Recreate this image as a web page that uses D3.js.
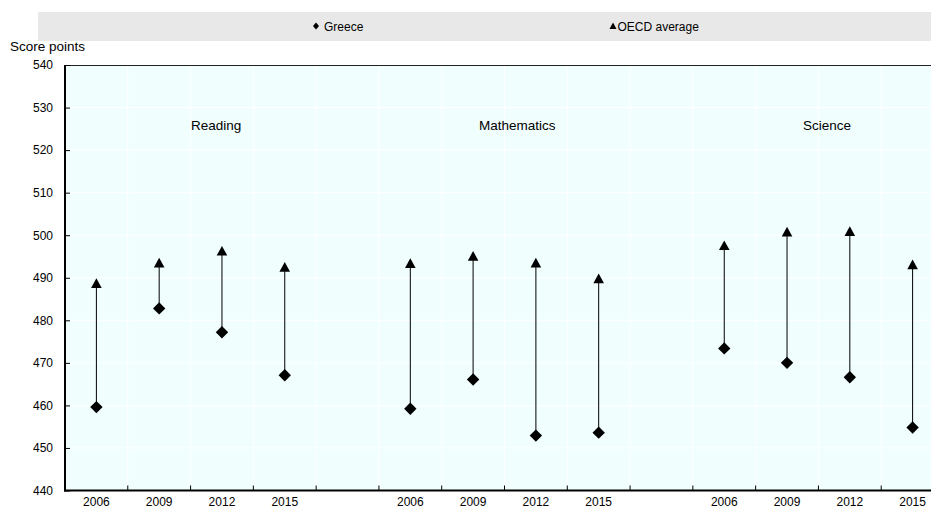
<!DOCTYPE html>
<html>
<head>
<meta charset="utf-8">
<script src="https://cdn.jsdelivr.net/npm/d3@7"></script>
<style>
  html, body { margin: 0; padding: 0; background: #ffffff; }
  svg { display: block; font-family: "Liberation Sans", Arial, sans-serif; }
</style>
</head>
<body>
<div id="chart"></div>
<script>
// ---- data ----
const subjects = ["Reading", "Mathematics", "Science"];
const years = ["2006", "2009", "2012", "2015"];
const greeceReading = [459.6, 482.8, 477.2, 467.1];
const oecdReading   = [488.7, 493.5, 496.3, 492.5];
const greeceMath    = [459.2, 466.1, 452.9, 453.6];
const oecdMath      = [493.4, 495.1, 493.5, 489.8];
const greeceScience = [473.4, 470.0, 466.6, 454.8];
const oecdScience   = [497.6, 500.8, 500.9, 493.1];
const yTicks = [440, 450, 460, 470, 480, 490, 500, 510, 520, 530, 540];
const seriesNames = ["Greece", "OECD average"];
const yTitle = "Score points";

const greeceBySubject = [greeceReading, greeceMath, greeceScience];
const oecdBySubject = [oecdReading, oecdMath, oecdScience];

// slots: subject/year, with a gap after each subject block (except last)
const slots = [];
const points = [];
subjects.forEach((s, si) => {
  years.forEach((yr, yi) => {
    const key = s + "|" + yr;
    slots.push(key);
    points.push({ key, year: yr, greece: greeceBySubject[si][yi], oecd: oecdBySubject[si][yi] });
  });
  if (si < subjects.length - 1) slots.push("gap" + si);
});

// ---- layout ----
const W = 931, H = 509;
const plotLeft = 65, plotTop = 65, plotBottom = 490.5, plotRight = 944;

const svg = d3.select("#chart").append("svg").attr("width", W).attr("height", H);

const x = d3.scaleBand().domain(slots).range([plotLeft, plotRight]).paddingInner(0).paddingOuter(0);
const y = d3.scaleLinear().domain([440, 540]).range([plotBottom, plotTop]);

// legend band
svg.append("rect").attr("x", 38).attr("y", 12).attr("width", W - 38 + 20).attr("height", 29).attr("fill", "#e8e8e8");
const legendItems = [
  { name: seriesNames[0], sym: "diamond", x: 316 },
  { name: seriesNames[1], sym: "triangle", x: 613 }
];
legendItems.forEach(it => {
  const g = svg.append("g").attr("transform", `translate(${it.x},26)`);
  if (it.sym === "diamond") {
    g.append("path").attr("d", "M0,-3.5L3,0L0,3.5L-3,0Z").attr("fill", "#000");
  } else {
    g.append("path").attr("d", "M0,-3.5L3.5,3L-3.5,3Z").attr("fill", "#000");
  }
  g.append("text").attr("x", it.sym === "diamond" ? 8 : 4.5).attr("y", 4.5)
    .attr("font-size", "12px").attr("fill", "#000").text(it.name);
});

// y title
svg.append("text").attr("x", 10).attr("y", 51).attr("font-size", "13.5px").attr("fill", "#000").text(yTitle);

// plot background
svg.append("rect").attr("x", plotLeft).attr("y", plotTop)
  .attr("width", plotRight - plotLeft).attr("height", plotBottom - plotTop).attr("fill", "#f0fefe");

// horizontal gridlines
svg.append("g").selectAll("line").data(yTicks).join("line")
  .attr("x1", plotLeft).attr("x2", plotRight)
  .attr("y1", d => y(d)).attr("y2", d => y(d))
  .attr("stroke", "#ffffff").attr("stroke-width", 1);

// vertical gridlines at slot boundaries
svg.append("g").selectAll("line").data(slots.slice(1)).join("line")
  .attr("x1", d => x(d)).attr("x2", d => x(d))
  .attr("y1", plotTop).attr("y2", plotBottom)
  .attr("stroke", "#ffffff").attr("stroke-width", 1);

// top border
svg.append("line").attr("x1", plotLeft).attr("x2", plotRight).attr("y1", plotTop + 0.5).attr("y2", plotTop + 0.5)
  .attr("stroke", "#222").attr("stroke-width", 1.2);

// subject labels
const subjectLabelX = [191, 479, 803];
subjects.forEach((s, i) => {
  svg.append("text").attr("x", subjectLabelX[i]).attr("y", 130)
    .attr("font-size", "13.5px").attr("fill", "#000").text(s);
});

// y axis
const yAxis = d3.axisLeft(y).tickValues(yTicks).tickSizeInner(-5).tickSizeOuter(0).tickPadding(12);
const gy = svg.append("g").attr("transform", `translate(${plotLeft},0)`).call(yAxis);
gy.select(".domain").remove();
gy.selectAll(".tick line").attr("stroke", "#000").attr("stroke-width", 1);
gy.selectAll(".tick text").attr("font-size", "12px").attr("font-family", "Liberation Sans, Arial, sans-serif").attr("fill", "#000");

// x axis labels
const labelFor = k => k.startsWith("gap") ? "" : k.split("|")[1];
const xAxis = d3.axisBottom(x).tickSize(0).tickPadding(6.5).tickFormat(labelFor);
const gx = svg.append("g").attr("transform", `translate(0,${plotBottom})`).call(xAxis);
gx.select(".domain").remove();
gx.selectAll(".tick text").attr("font-size", "12px").attr("font-family", "Liberation Sans, Arial, sans-serif").attr("fill", "#000");

// x ticks at slot boundaries (inward)
svg.append("g").selectAll("line").data(slots.slice(1)).join("line")
  .attr("x1", d => x(d)).attr("x2", d => x(d))
  .attr("y1", plotBottom).attr("y2", plotBottom - 5)
  .attr("stroke", "#000").attr("stroke-width", 1);

// axis lines
svg.append("line").attr("x1", plotLeft).attr("x2", plotLeft).attr("y1", plotTop).attr("y2", plotBottom + 1)
  .attr("stroke", "#000").attr("stroke-width", 2);
svg.append("line").attr("x1", plotLeft - 1).attr("x2", plotRight).attr("y1", plotBottom).attr("y2", plotBottom)
  .attr("stroke", "#000").attr("stroke-width", 2);

// data marks
const cx = d => x(d.key) + x.bandwidth() / 2;
const marks = svg.append("g");
marks.selectAll("line.link").data(points).join("line").attr("class", "link")
  .attr("x1", cx).attr("x2", cx)
  .attr("y1", d => y(d.greece)).attr("y2", d => y(d.oecd))
  .attr("stroke", "#000").attr("stroke-width", 1);

marks.selectAll("path.dia").data(points).join("path").attr("class", "dia")
  .attr("transform", d => `translate(${cx(d)},${y(d.greece)})`)
  .attr("d", "M0,-6.2L6.2,0L0,6.2L-6.2,0Z").attr("fill", "#000");

marks.selectAll("path.tri").data(points).join("path").attr("class", "tri")
  .attr("transform", d => `translate(${cx(d)},${y(d.oecd)})`)
  .attr("d", "M0,-5L5.3,4.6L-5.3,4.6Z").attr("fill", "#000");
</script>
</body>
</html>
